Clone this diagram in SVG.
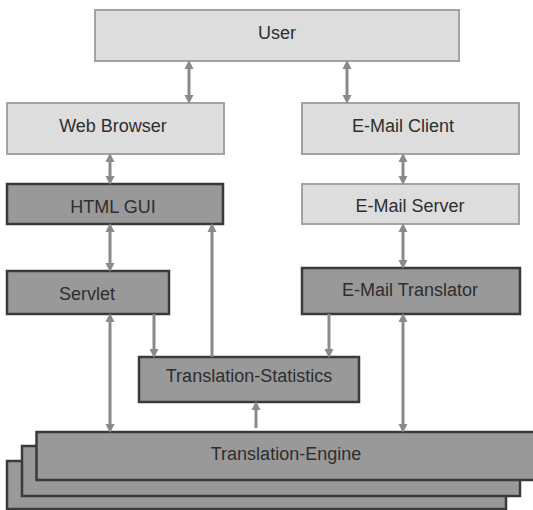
<svg xmlns="http://www.w3.org/2000/svg" width="533" height="510" viewBox="0 0 533 510">
<style>
.light{fill:#dddddd;stroke:#a3a3a3;stroke-width:2}
.dark{fill:#999999;stroke:#3a3a3a;stroke-width:2.5}
.lbl{font-family:"Liberation Sans",Arial,sans-serif;font-size:18px;fill:#2e2e2e;text-anchor:middle}
.con{stroke:#8a8a8a;stroke-width:3;fill:none}
</style>
<defs>
<marker id="ah" markerUnits="userSpaceOnUse" markerWidth="9" markerHeight="10" viewBox="0 0 9 10" refX="4" refY="5" orient="auto-start-reverse">
<path d="M0,0.5 L9,5 L0,9.5 z" fill="#8a8a8a"/>
</marker>
</defs>
<rect width="533" height="510" fill="#ffffff"/>
<g id="user"><rect class="light" x="95" y="10" width="364" height="51"/><text class="lbl" x="277" y="39">User</text></g>
<g id="web-browser"><rect class="light" x="7" y="103" width="217" height="51"/><text class="lbl" x="113" y="132">Web Browser</text></g>
<g id="email-client"><rect class="light" x="302" y="103" width="217" height="51"/><text class="lbl" x="403" y="132">E-Mail Client</text></g>
<g id="html-gui"><rect class="dark" x="7" y="184" width="216" height="40"/><text class="lbl" x="113" y="213">HTML GUI</text></g>
<g id="email-server"><rect class="light" x="302" y="184" width="217" height="40"/><text class="lbl" x="410" y="212">E-Mail Server</text></g>
<g id="servlet"><rect class="dark" x="7" y="271" width="162" height="43"/><text class="lbl" x="87" y="300">Servlet</text></g>
<g id="email-translator"><rect class="dark" x="302" y="268" width="218" height="46"/><text class="lbl" x="410" y="296">E-Mail Translator</text></g>
<g id="translation-statistics"><rect class="dark" x="139" y="357" width="220" height="45"/><text class="lbl" x="249" y="382">Translation-Statistics</text></g>
<g id="translation-engine">
<rect class="dark" x="7" y="461" width="499" height="48"/>
<rect class="dark" x="22" y="446" width="498" height="50"/>
<rect class="dark" x="36.5" y="432" width="500" height="48"/>
<text class="lbl" x="286" y="460">Translation-Engine</text>
</g>
<g id="connectors">
<line class="con" x1="189" y1="65" x2="189" y2="99" marker-start="url(#ah)" marker-end="url(#ah)"/>
<line class="con" x1="347" y1="65" x2="347" y2="99" marker-start="url(#ah)" marker-end="url(#ah)"/>
<line class="con" x1="110" y1="158" x2="110" y2="180" marker-start="url(#ah)" marker-end="url(#ah)"/>
<line class="con" x1="403" y1="158" x2="403" y2="180" marker-start="url(#ah)" marker-end="url(#ah)"/>
<line class="con" x1="110" y1="228" x2="110" y2="267" marker-start="url(#ah)" marker-end="url(#ah)"/>
<line class="con" x1="403" y1="228" x2="403" y2="264" marker-start="url(#ah)" marker-end="url(#ah)"/>
<line class="con" x1="110" y1="318" x2="110" y2="428" marker-start="url(#ah)" marker-end="url(#ah)"/>
<line class="con" x1="154" y1="314" x2="154" y2="353" marker-end="url(#ah)"/>
<line class="con" x1="212" y1="357" x2="212" y2="228" marker-end="url(#ah)"/>
<line class="con" x1="329" y1="314" x2="329" y2="353" marker-end="url(#ah)"/>
<line class="con" x1="403" y1="318" x2="403" y2="428" marker-start="url(#ah)" marker-end="url(#ah)"/>
<line class="con" x1="256" y1="428" x2="256" y2="406" marker-end="url(#ah)"/>
</g>
</svg>
